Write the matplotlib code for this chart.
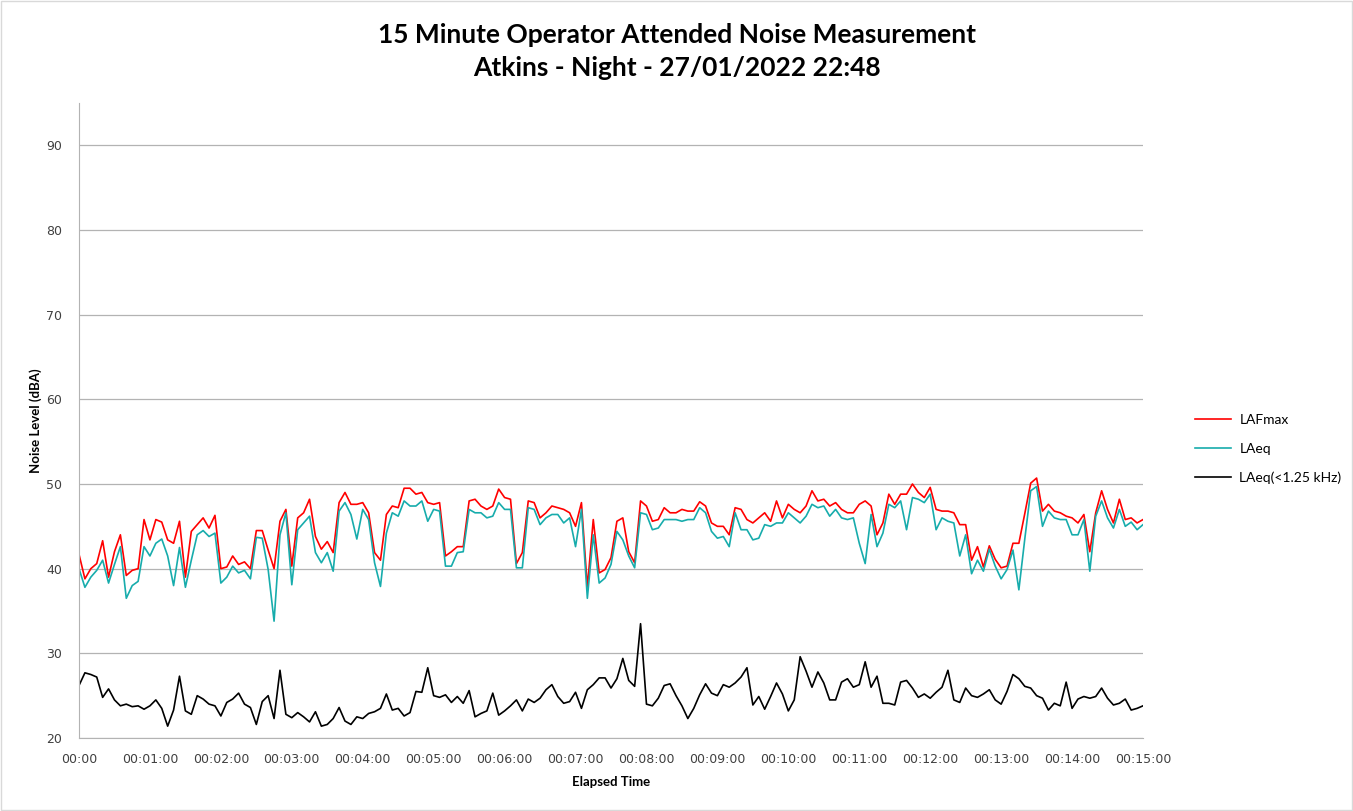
import numpy as np
import matplotlib
matplotlib.use('Agg')
import matplotlib.pyplot as plt
from matplotlib.ticker import FuncFormatter, MultipleLocator
from matplotlib.patches import Rectangle

step_s = 5

# LAFmax (dBA), one value every 5 s from 00:00 to 00:15:00
lafmax = [
    41.7, 38.8, 40.0, 40.6, 43.3, 39.0, 42.0, 44.0, 39.2, 39.8, 40.0, 45.8, 43.4, 45.8, 45.5, 43.4,
    43.0, 45.6, 39.0, 44.4, 45.2, 46.0, 44.8, 46.3, 40.0, 40.2, 41.5, 40.5, 40.8, 40.0, 44.5, 44.5,
    42.2, 40.0, 45.6, 47.0, 40.3, 46.0, 46.6, 48.2, 43.8, 42.3, 43.2, 41.9, 47.8, 49.0, 47.6, 47.6,
    47.8, 46.6, 41.9, 41.0, 46.4, 47.4, 47.2, 49.5, 49.5, 48.8, 49.0, 47.8, 47.6, 47.8, 41.5, 42.0,
    42.6, 42.6, 48.0, 48.2, 47.4, 47.0, 47.4, 49.4, 48.4, 48.2, 40.6, 41.9, 48.0, 47.8, 46.0, 46.6,
    47.4, 47.2, 47.0, 46.6, 45.0, 47.8, 37.8, 45.8, 39.5, 39.9, 41.3, 45.6, 46.0, 42.0, 40.7, 48.0,
    47.4, 45.6, 45.8, 47.2, 46.6, 46.6, 47.0, 46.8, 46.8, 47.9, 47.4, 45.4, 45.0, 45.0, 44.0, 47.2,
    47.0, 45.8, 45.4, 46.0, 46.6, 45.6, 48.0, 46.0, 47.6, 47.0, 46.6, 47.4, 49.2, 48.0, 48.2, 47.4,
    47.8, 47.0, 46.6, 46.6, 47.6, 48.0, 47.4, 44.0, 45.4, 48.8, 47.6, 48.8, 48.8, 50.0, 49.0, 48.4,
    49.6, 47.0, 46.8, 46.8, 46.6, 45.2, 45.2, 41.0, 42.6, 40.2, 42.7, 41.1, 40.1, 40.3, 43.0, 43.0,
    46.5, 50.1, 50.7, 46.8, 47.6, 46.8, 46.6, 46.2, 46.0, 45.4, 46.4, 42.0, 46.6, 49.2, 47.0, 45.4,
    48.2, 45.8, 46.0, 45.4, 45.8,
]

# LAeq (dBA)
laeq = [
    40.0, 37.8, 39.0, 39.8, 41.0, 38.3, 40.5, 42.6, 36.5, 38.0, 38.5, 42.6, 41.5, 43.0, 43.5, 41.5,
    38.0, 42.5, 37.8, 41.0, 44.0, 44.5, 43.8, 44.2, 38.3, 39.0, 40.3, 39.5, 39.8, 38.8, 43.7, 43.6,
    39.9, 33.8, 44.0, 46.6, 38.1, 44.6, 45.4, 46.2, 41.9, 40.7, 41.9, 39.7, 46.8, 47.8, 46.4, 43.5,
    47.0, 45.8, 40.7, 37.9, 44.2, 46.6, 46.2, 48.0, 47.4, 47.4, 48.0, 45.6, 47.0, 46.8, 40.3, 40.3,
    41.9, 42.0, 47.0, 46.6, 46.6, 46.0, 46.2, 47.8, 47.0, 47.0, 40.1, 40.1, 47.2, 47.0, 45.2, 46.0,
    46.4, 46.4, 45.4, 46.0, 42.6, 47.0, 36.5, 44.0, 38.3, 38.9, 40.5, 44.4, 43.4, 41.5, 40.1, 46.6,
    46.4, 44.6, 44.8, 45.8, 45.8, 45.8, 45.6, 45.8, 45.8, 47.2, 46.6, 44.4, 43.6, 43.8, 42.6, 46.6,
    44.6, 44.6, 43.4, 43.6, 45.2, 45.0, 45.4, 45.4, 46.6, 46.0, 45.4, 46.2, 47.6, 47.2, 47.4, 46.2,
    47.0, 46.0, 45.8, 46.0, 43.0, 40.6, 46.4, 42.6, 44.2, 47.6, 47.2, 48.0, 44.6, 48.4, 48.2, 47.8,
    48.8, 44.6, 46.0, 45.6, 45.4, 41.5, 44.0, 39.4, 41.0, 39.7, 42.3, 40.3, 38.8, 39.9, 42.2, 37.5,
    43.5, 49.2, 49.7, 45.0, 46.8, 46.0, 45.8, 45.8, 44.0, 44.0, 45.8, 39.7, 46.2, 48.0, 46.0, 44.8,
    47.0, 45.0, 45.5, 44.6, 45.2,
]

# LAeq below 1.25 kHz (dBA)
laeq_low = [
    26.2, 27.7, 27.5, 27.2, 24.8, 25.8, 24.5, 23.8, 24.0, 23.7, 23.8, 23.4, 23.8, 24.5, 23.5, 21.4,
    23.3, 27.3, 23.2, 22.8, 25.0, 24.6, 24.0, 23.8, 22.6, 24.2, 24.6, 25.3, 24.0, 23.6, 21.6, 24.3,
    25.0, 22.3, 28.0, 22.8, 22.4, 23.0, 22.5, 21.9, 23.1, 21.4, 21.6, 22.3, 23.6, 22.0, 21.6, 22.5,
    22.3, 22.9, 23.1, 23.5, 25.2, 23.3, 23.5, 22.6, 23.0, 25.5, 25.4, 28.3, 25.0, 24.8, 25.1, 24.2,
    24.9, 24.1, 25.6, 22.5, 22.9, 23.2, 25.3, 22.7, 23.2, 23.8, 24.5, 23.2, 24.6, 24.2, 24.7, 25.7,
    26.3, 24.9, 24.1, 24.3, 25.4, 23.5, 25.7, 26.3, 27.1, 27.1, 25.9, 27.0, 29.4, 26.8, 26.1, 33.5,
    24.0, 23.8, 24.7, 26.2, 26.4, 25.0, 23.8, 22.3, 23.5, 25.1, 26.4, 25.3, 25.0, 26.3, 26.0, 26.5,
    27.2, 28.3, 23.9, 24.9, 23.4, 24.9, 26.5, 25.2, 23.2, 24.5, 29.6, 27.9, 26.0, 27.8, 26.5, 24.5,
    24.5, 26.6, 27.0, 26.0, 26.3, 29.0, 26.0, 27.3, 24.1, 24.1, 23.9, 26.6, 26.8, 25.9, 24.8, 25.2,
    24.7, 25.4, 26.0, 28.0, 24.5, 24.2, 25.9, 25.0, 24.8, 25.2, 25.7, 24.5, 24.0, 25.5, 27.5, 27.0,
    26.1, 25.9, 25.0, 24.7, 23.3, 24.1, 23.8, 26.6, 23.5, 24.6, 24.9, 24.7, 24.9, 25.9, 24.7, 23.9,
    24.1, 24.6, 23.3, 23.5, 23.8,
]

series_names = ['LAFmax', 'LAeq', 'LAeq(<1.25 kHz)']
series_colors = ['#ff0000', '#17acac', '#000000']

title_text = '15 Minute Operator Attended Noise Measurement\nAtkins - Night - 27/01/2022 22:48'


def time_label(sec, pos):
    # Excel shows the origin as 00:00 and the rest as hh:mm:ss
    sec = int(round(sec))
    if sec == 0:
        return '00:00'
    return '00:%02d:%02d' % (sec // 60, sec % 60)


def main():
    elapsed = np.arange(len(lafmax)) * step_s

    fig = plt.figure(figsize=(13.53, 8.11), dpi=100)
    fig.patches.append(Rectangle((0.001, 0.001), 0.998, 0.998, transform=fig.transFigure,
                                 fill=False, edgecolor='#d9d9d9', linewidth=1))
    ax = fig.add_axes([79 / 1353, 73 / 811, 1064 / 1353, 635 / 811])

    for vals, name, col in zip([lafmax, laeq, laeq_low], series_names, series_colors):
        ax.plot(elapsed, vals, color=col, linewidth=1.2, label=name)

    ax.set_xlim(0, 900)
    ax.set_ylim(20, 95)
    ax.xaxis.set_major_locator(MultipleLocator(60))
    ax.xaxis.set_major_formatter(FuncFormatter(time_label))
    ax.set_yticks(np.arange(20, 91, 10))
    ax.grid(axis='y', color='#b3b3b3', linewidth=0.9)
    ax.set_axisbelow(True)
    for side in ['top', 'right']:
        ax.spines[side].set_visible(False)
    ax.spines['left'].set_color('#b3b3b3')
    ax.spines['bottom'].set_color('#b3b3b3')
    ax.tick_params(axis='x', length=0, labelsize=9, pad=11)
    ax.tick_params(axis='y', length=0, labelsize=9, pad=12)
    for lab in ax.get_xticklabels() + ax.get_yticklabels():
        lab.set_color('#404040')

    ax.set_xlabel('Elapsed Time', fontsize=9.5, fontweight='bold', family='Lato', labelpad=7)
    ax.set_ylabel('Noise Level (dBA)', fontsize=9.5, fontweight='bold', family='Lato', labelpad=3)

    fig.text(0.5, 0.972, title_text, ha='center', va='top', fontsize=19, fontweight='bold',
             family='Lato', linespacing=1.45)

    ax.legend(loc='center left', bbox_to_anchor=(1.037, 0.455), frameon=False,
              prop={'family': 'Lato', 'size': 10}, handlelength=2.6, labelspacing=1.2,
              handletextpad=0.6)

    fig.savefig('out.png', dpi=100)


if __name__ == '__main__':
    main()
